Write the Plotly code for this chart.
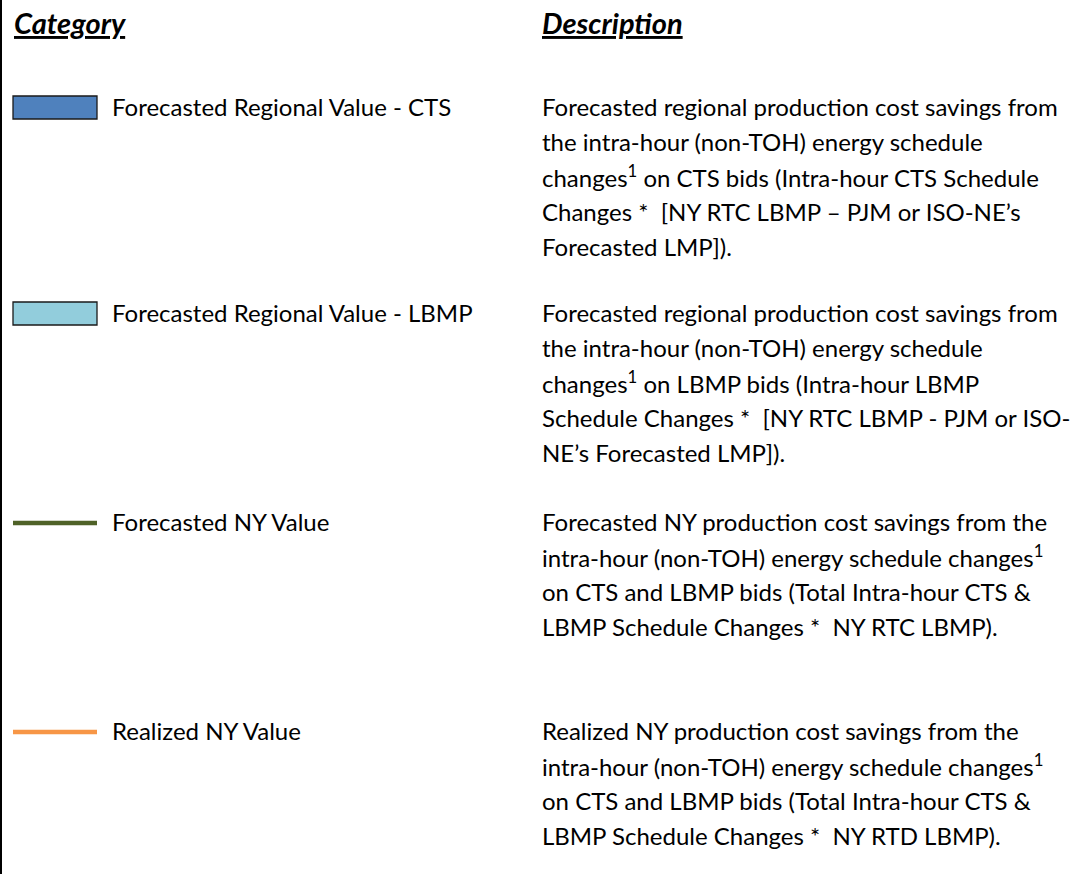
import plotly.graph_objects as go

W, H = 1083, 874

headers = ["Category", "Description"]
categories = [
    "Forecasted Regional Value - CTS",
    "Forecasted Regional Value - LBMP",
    "Forecasted NY Value",
    "Realized NY Value",
]
swatch_kind = ["rect", "rect", "line", "line"]
swatch_colors = ["#4F81BD", "#92CDDC", "#4F6228", "#F79646"]
descriptions = [
    [
        "Forecasted regional production cost savings from",
        "the intra-hour (non-TOH) energy schedule",
        "changes<sup>1</sup> on CTS bids (Intra-hour CTS Schedule",
        "Changes *  [NY RTC LBMP \u2013 PJM or ISO-NE\u2019s",
        "Forecasted LMP]).",
    ],
    [
        "Forecasted regional production cost savings from",
        "the intra-hour (non-TOH) energy schedule",
        "changes<sup>1</sup> on LBMP bids (Intra-hour LBMP",
        "Schedule Changes *  [NY RTC LBMP - PJM or ISO-",
        "NE\u2019s Forecasted LMP]).",
    ],
    [
        "Forecasted NY production cost savings from the",
        "intra-hour (non-TOH) energy schedule changes<sup>1</sup>",
        "on CTS and LBMP bids (Total Intra-hour CTS &",
        "LBMP Schedule Changes *  NY RTC LBMP).",
    ],
    [
        "Realized NY production cost savings from the",
        "intra-hour (non-TOH) energy schedule changes<sup>1</sup>",
        "on CTS and LBMP bids (Total Intra-hour CTS &",
        "LBMP Schedule Changes *  NY RTD LBMP).",
    ],
]

FONT = "Lato, Open Sans, sans-serif"
FS = 24
HFS = 29
row_top = [106, 312, 521, 730]
line_gap = 35
col_cat, col_sw0, col_sw1, col_lab, col_desc = 12, 13, 97, 110, 540

fig = go.Figure()
ann = []
shapes = []

# left border
shapes.append(dict(type="line", x0=1, x1=1, y0=0, y1=H, xref="x", yref="y",
                   line=dict(color="black", width=2)))

for hx, h in zip([col_cat, col_desc], headers):
    ann.append(dict(x=hx, y=22, xref="x", yref="y", text=f"<u><b><i>{h}</i></b></u>",
                    showarrow=False, xanchor="left", yanchor="middle",
                    font=dict(family=FONT, size=HFS, color="black")))

for i, (cat, kind, col, desc) in enumerate(zip(categories, swatch_kind, swatch_colors, descriptions)):
    yc = row_top[i]
    if kind == "rect":
        shapes.append(dict(type="rect", x0=col_sw0, x1=col_sw1, y0=yc - 10, y1=yc + 13,
                           xref="x", yref="y", fillcolor=col,
                           line=dict(color="#1a1a1a", width=1.3)))
    else:
        fig.add_trace(go.Scatter(x=[col_sw0, col_sw1], y=[yc + 2, yc + 2], mode="lines",
                                 line=dict(color=col, width=4.5), showlegend=False,
                                 hoverinfo="skip"))
    ann.append(dict(x=col_lab, y=yc, xref="x", yref="y", text=cat, showarrow=False,
                    xanchor="left", yanchor="middle",
                    font=dict(family=FONT, size=FS, color="black")))
    for j, line in enumerate(desc):
        ann.append(dict(x=col_desc, y=yc + j * line_gap, xref="x", yref="y", text=line,
                        showarrow=False, xanchor="left", yanchor="middle",
                        font=dict(family=FONT, size=FS, color="black")))

fig.update_layout(
    width=W, height=H, margin=dict(l=0, r=0, t=0, b=0),
    paper_bgcolor="white", plot_bgcolor="white",
    xaxis=dict(range=[0, W], visible=False, fixedrange=True),
    yaxis=dict(range=[H, 0], visible=False, fixedrange=True),
    annotations=ann, shapes=shapes,
)
fig.write_html("out.html", config={"displayModeBar": False},
               post_script="document.body.style.margin='0';document.body.style.overflow='hidden';")
